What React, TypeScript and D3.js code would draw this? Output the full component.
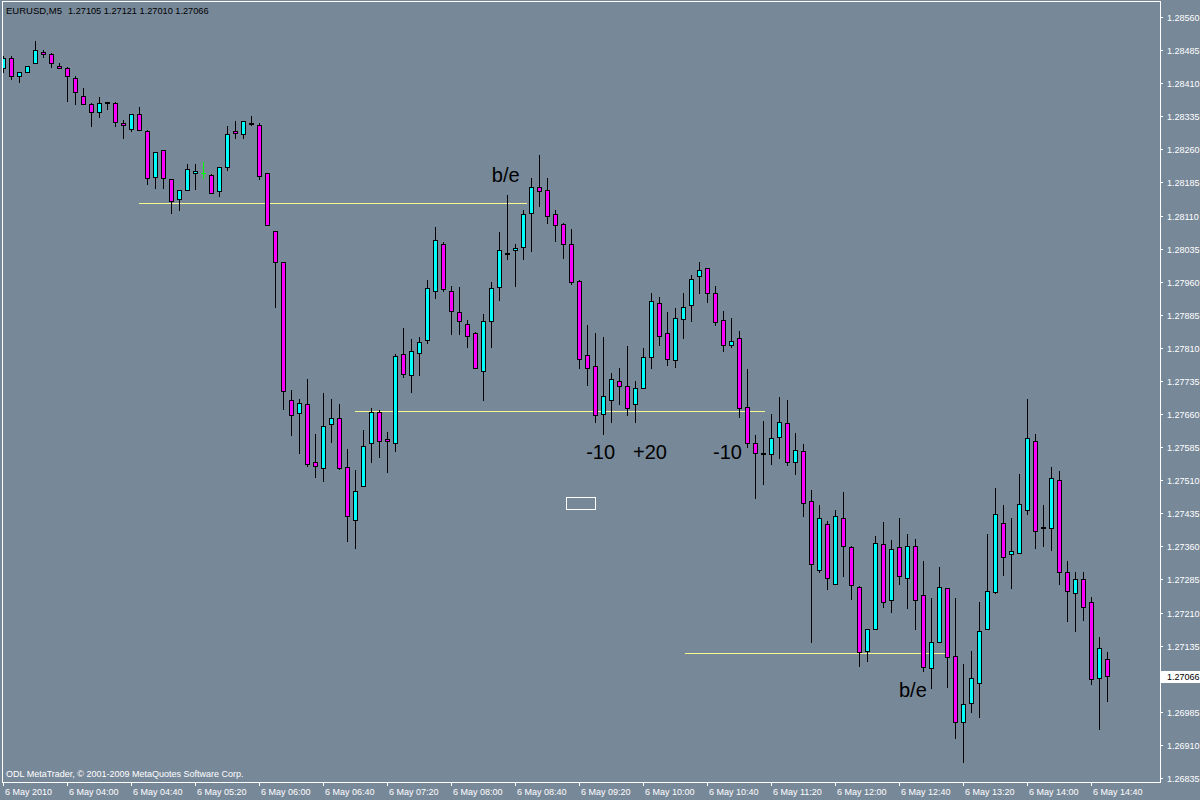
import React from 'react'
import { scaleLinear } from 'd3'

// EURUSD M5, 6 May 2010, bar 0 = 03:20
const opens = [
  1.28444, 1.28466, 1.28426, 1.28435, 1.28455, 1.28480, 1.28475, 1.28450, 1.28444, 1.28421,
  1.28382, 1.28362, 1.28344, 1.28366, 1.28364, 1.28319, 1.28305, 1.28339, 1.28301, 1.28197,
  1.28258, 1.28192, 1.28147, 1.28167, 1.28206, 1.28206, 1.28201, 1.28165, 1.28219, 1.28301,
  1.28294, 1.28320, 1.28315, 1.28206, 1.28074, 1.28004, 1.27691, 1.27662, 1.27682, 1.27551,
  1.27537, 1.27637, 1.27650, 1.27539, 1.27419, 1.27496, 1.27594, 1.27664, 1.27603, 1.27594,
  1.27795, 1.27748, 1.27798, 1.27827, 1.27940, 1.28045, 1.27940, 1.27891, 1.27863, 1.27843,
  1.27757, 1.27872, 1.27947, 1.28025, 1.28031, 1.28038, 1.28115, 1.28174, 1.28167, 1.28113,
  1.28090, 1.28045, 1.27961, 1.27793, 1.27768, 1.27659, 1.27691, 1.27734, 1.27723, 1.27682,
  1.27718, 1.27789, 1.27911, 1.27843, 1.27782, 1.27875, 1.27907, 1.27972, 1.27990, 1.27934,
  1.27873, 1.27816, 1.27832, 1.27675, 1.27594, 1.27572, 1.27569, 1.27607, 1.27639, 1.27551,
  1.27576, 1.27462, 1.27306, 1.27410, 1.27274, 1.27424, 1.27358, 1.27267, 1.27124, 1.27172,
  1.27365, 1.27238, 1.27358, 1.27288, 1.27360, 1.27249, 1.27084, 1.27143, 1.27265, 1.27111,
  1.26961, 1.27004, 1.27050, 1.27172, 1.27256, 1.27412, 1.27342, 1.27344, 1.27442, 1.27600,
  1.27402, 1.27401, 1.27510, 1.27301, 1.27254, 1.27285, 1.27233, 1.27061, 1.27105
]
const highs = [
  1.28472, 1.28472, 1.28435, 1.28450, 1.28506, 1.28485, 1.28478, 1.28456, 1.28446, 1.28426,
  1.28398, 1.28364, 1.28378, 1.28368, 1.28367, 1.28327, 1.28339, 1.28355, 1.28303, 1.28253,
  1.28258, 1.28192, 1.28167, 1.28226, 1.28226, 1.28231, 1.28203, 1.28219, 1.28312, 1.28324,
  1.28324, 1.28336, 1.28319, 1.28207, 1.28074, 1.28004, 1.27715, 1.27693, 1.27739, 1.27615,
  1.27708, 1.27694, 1.27683, 1.27581, 1.27533, 1.27624, 1.27674, 1.27669, 1.27619, 1.27795,
  1.27855, 1.27830, 1.27835, 1.27964, 1.28084, 1.28049, 1.27950, 1.27948, 1.27873, 1.27845,
  1.27887, 1.27959, 1.28073, 1.28157, 1.28045, 1.28122, 1.28194, 1.28247, 1.28194, 1.28122,
  1.28092, 1.28079, 1.27963, 1.27862, 1.27844, 1.27835, 1.27753, 1.27764, 1.27814, 1.27734,
  1.27810, 1.27934, 1.27925, 1.27891, 1.27900, 1.27934, 1.27975, 1.28004, 1.27992, 1.27950,
  1.27894, 1.27878, 1.27848, 1.27761, 1.27612, 1.27644, 1.27659, 1.27698, 1.27691, 1.27616,
  1.27591, 1.27487, 1.27453, 1.27417, 1.27442, 1.27483, 1.27362, 1.27270, 1.27172, 1.27384,
  1.27415, 1.27374, 1.27424, 1.27387, 1.27376, 1.27328, 1.27242, 1.27313, 1.27265, 1.27242,
  1.27093, 1.27123, 1.27234, 1.27388, 1.27492, 1.27453, 1.27424, 1.27524, 1.27694, 1.27614,
  1.27453, 1.27539, 1.27532, 1.27328, 1.27301, 1.27301, 1.27245, 1.27154, 1.27121
]
const lows = [
  1.28436, 1.28420, 1.28413, 1.28435, 1.28455, 1.28469, 1.28447, 1.28444, 1.28370, 1.28363,
  1.28363, 1.28314, 1.28334, 1.28352, 1.28314, 1.28285, 1.28302, 1.28303, 1.28182, 1.28173,
  1.28173, 1.28116, 1.28123, 1.28167, 1.28169, 1.28194, 1.28160, 1.28154, 1.28213, 1.28285,
  1.28285, 1.28315, 1.28192, 1.28088, 1.27903, 1.27672, 1.27613, 1.27572, 1.27543, 1.27518,
  1.27509, 1.27597, 1.27535, 1.27373, 1.27357, 1.27496, 1.27552, 1.27563, 1.27528, 1.27577,
  1.27745, 1.27711, 1.27749, 1.27822, 1.27924, 1.27940, 1.27842, 1.27842, 1.27813, 1.27764,
  1.27692, 1.27813, 1.27919, 1.28012, 1.27951, 1.28012, 1.28030, 1.28132, 1.28092, 1.28052,
  1.28013, 1.27954, 1.27764, 1.27725, 1.27641, 1.27614, 1.27643, 1.27682, 1.27657, 1.27643,
  1.27718, 1.27764, 1.27817, 1.27772, 1.27767, 1.27833, 1.27870, 1.27934, 1.27913, 1.27861,
  1.27804, 1.27811, 1.27653, 1.27585, 1.27470, 1.27502, 1.27547, 1.27561, 1.27544, 1.27523,
  1.27430, 1.27144, 1.27301, 1.27263, 1.27274, 1.27292, 1.27241, 1.27090, 1.27101, 1.27172,
  1.27222, 1.27211, 1.27274, 1.27220, 1.27172, 1.27077, 1.27038, 1.27143, 1.27041, 1.26925,
  1.26872, 1.26985, 1.26973, 1.27172, 1.27254, 1.27296, 1.27266, 1.27344, 1.27433, 1.27357,
  1.27362, 1.27352, 1.27275, 1.27191, 1.27169, 1.27194, 1.27049, 1.26947, 1.27010
]
const closes = [
  1.28466, 1.28426, 1.28435, 1.28450, 1.28485, 1.28475, 1.28455, 1.28444, 1.28426, 1.28389,
  1.28363, 1.28344, 1.28364, 1.28367, 1.28321, 1.28315, 1.28339, 1.28303, 1.28194, 1.28253,
  1.28194, 1.28142, 1.28167, 1.28215, 1.28210, 1.28206, 1.28160, 1.28219, 1.28294, 1.28296,
  1.28324, 1.28319, 1.28199, 1.28088, 1.28004, 1.27712, 1.27657, 1.27684, 1.27546, 1.27542,
  1.27632, 1.27650, 1.27538, 1.27428, 1.27485, 1.27587, 1.27664, 1.27598, 1.27598, 1.27791,
  1.27751, 1.27802, 1.27823, 1.27945, 1.28054, 1.27943, 1.27893, 1.27872, 1.27838, 1.27764,
  1.27870, 1.27945, 1.28031, 1.28024, 1.28036, 1.28113, 1.28174, 1.28165, 1.28108, 1.28088,
  1.28045, 1.27959, 1.27784, 1.27764, 1.27657, 1.27702, 1.27739, 1.27723, 1.27673, 1.27718,
  1.27789, 1.27916, 1.27838, 1.27784, 1.27877, 1.27902, 1.27965, 1.27986, 1.27934, 1.27868,
  1.27816, 1.27825, 1.27673, 1.27594, 1.27571, 1.27571, 1.27605, 1.27641, 1.27551, 1.27578,
  1.27458, 1.27319, 1.27424, 1.27288, 1.27428, 1.27362, 1.27272, 1.27120, 1.27172, 1.27367,
  1.27233, 1.27353, 1.27292, 1.27362, 1.27238, 1.27086, 1.27143, 1.27267, 1.27109, 1.26961,
  1.27002, 1.27061, 1.27168, 1.27258, 1.27433, 1.27337, 1.27349, 1.27455, 1.27605, 1.27396,
  1.27403, 1.27514, 1.27301, 1.27258, 1.27285, 1.27222, 1.27059, 1.27129, 1.27066
]

const priceTicks = [
  1.28560, 1.28485, 1.28410, 1.28335, 1.28260, 1.28185, 1.28110, 1.28035, 1.27960, 1.27885,
  1.27810, 1.27735, 1.27660, 1.27585, 1.27510, 1.27435, 1.27360, 1.27285, 1.27210, 1.27135,
  1.26985, 1.26910, 1.26835
]
const timeLabels = [
  '6 May 2010', '6 May 04:00', '6 May 04:40', '6 May 05:20', '6 May 06:00', '6 May 06:40',
  '6 May 07:20', '6 May 08:00', '6 May 08:40', '6 May 09:20', '6 May 10:00', '6 May 10:40',
  '6 May 11:20', '6 May 12:00', '6 May 12:40', '6 May 13:20', '6 May 14:00', '6 May 14:40'
]
const barsPerLabel = 8

// horizontal levels drawn on the chart: price, from bar, to bar
const levelPrices = [1.28138, 1.27666, 1.27118]
const levelFrom = [17, 44, 85.3]
const levelTo = [65.5, 95.3, 117.7]

// text notes: label, bar, price (baseline)
const noteTexts = ['b/e', '-10', '+20', '-10', 'b/e']
const noteBars = [61.1, 72.9, 78.75, 88.75, 112]
const notePrices = [1.28186, 1.27558, 1.27558, 1.27558, 1.27019]

// rectangle object
const boxBars = [70.4, 74]
const boxPrices = [1.27472, 1.27445]

const lastPrice = 1.27066
const symbolText = 'EURUSD,M5'
const ohlcText = '1.27105 1.27121 1.27010 1.27066'
const creditText = 'ODL MetaTrader, © 2001-2009 MetaQuotes Software Corp.'

const BG = '#778899'
const BULL = '#00ffff'
const BEAR = '#ff00ff'
const DOJI = '#00ff00'
const LEVEL = '#f8f890'
const FONT = "'Liberation Sans', Arial, sans-serif"

const left = 2
const top = 1
const right = 1160
const bottom = 782

export default function App() {
  const x = scaleLinear().domain([0, opens.length - 1]).range([3, 3 + 8 * (opens.length - 1)])
  const y = scaleLinear().domain([1.26835, 1.28560]).range([778, 17])
  const ry = (p: number) => Math.round(y(p))

  return (
    <svg
      width={1200}
      height={800}
      style={{ position: 'absolute', left: 0, top: 0, display: 'block' }}
    >
      <defs>
        <clipPath id='plot'>
          <rect x={left + 1} y={top + 1} width={right - left - 1} height={bottom - top - 1} />
        </clipPath>
      </defs>
      <rect x={0} y={0} width={1200} height={800} fill={BG} />

      <g clipPath='url(#plot)'>
        {levelPrices.map((p, i) => (
          <line
            key={'lv' + i}
            x1={Math.round(x(levelFrom[i]))}
            x2={Math.round(x(levelTo[i]))}
            y1={ry(p) + 0.5}
            y2={ry(p) + 0.5}
            stroke={LEVEL}
            strokeWidth={1}
          />
        ))}

        {opens.map((o, i) => {
          const c = closes[i]
          const cx = Math.round(x(i))
          const hi = ry(highs[i])
          const lo = ry(lows[i])
          if (o === c) {
            const yy = ry(o)
            return (
              <g key={i}>
                <line x1={cx + 0.5} x2={cx + 0.5} y1={hi} y2={lo + 1} stroke={DOJI} />
                <line x1={cx - 2} x2={cx + 3} y1={yy + 0.5} y2={yy + 0.5} stroke={DOJI} />
              </g>
            )
          }
          const t = ry(Math.max(o, c))
          const b = ry(Math.min(o, c))
          return (
            <g key={i}>
              <line x1={cx + 0.5} x2={cx + 0.5} y1={hi} y2={lo + 1} stroke='#000' />
              <rect
                x={cx - 1.5}
                y={t + 0.5}
                width={4}
                height={Math.max(b - t, 1)}
                fill={c > o ? BULL : BEAR}
                stroke='#000'
                strokeWidth={1}
              />
            </g>
          )
        })}

        <rect
          x={Math.round(x(boxBars[0])) + 0.5}
          y={ry(boxPrices[0]) + 0.5}
          width={Math.round(x(boxBars[1])) - Math.round(x(boxBars[0]))}
          height={ry(boxPrices[1]) - ry(boxPrices[0])}
          fill='none'
          stroke='#fff'
        />

        {noteTexts.map((t, i) => (
          <text
            key={'n' + i}
            x={x(noteBars[i])}
            y={y(notePrices[i])}
            fontFamily={FONT}
            fontSize={20}
            fill='#000'
          >
            {t}
          </text>
        ))}
      </g>

      {/* frame */}
      <rect
        x={left + 0.5}
        y={top + 0.5}
        width={right - left}
        height={bottom - top}
        fill='none'
        stroke='#fff'
      />

      {/* price axis */}
      {priceTicks.map((p) => (
        <g key={'p' + p}>
          <line x1={right} x2={right + 3} y1={ry(p) + 0.5} y2={ry(p) + 0.5} stroke='#fff' />
          <text
            x={right + 7}
            y={ry(p) + 3.5}
            fontFamily={FONT}
            fontSize={9}
            fill='#fff'
          >
            {p.toFixed(5)}
          </text>
        </g>
      ))}
      <rect x={right} y={ry(lastPrice) - 5} width={40} height={12} fill='#fff' />
      <text
        x={right + 7}
        y={ry(lastPrice) + 4}
        fontFamily={FONT}
        fontSize={9}
        fill='#000'
      >
        {lastPrice.toFixed(5)}
      </text>

      {/* time axis */}
      {timeLabels.map((t, i) => {
        const tx = Math.round(x(i * barsPerLabel))
        return (
          <g key={'t' + i}>
            <line x1={tx + 0.5} x2={tx + 0.5} y1={bottom} y2={bottom + 4} stroke='#fff' />
            <text x={tx + 2} y={bottom + 13} fontFamily={FONT} fontSize={9} fill='#fff'>
              {t}
            </text>
          </g>
        )
      })}

      <text x={6} y={14} fontFamily={FONT} fontSize={9.5} fill='#000'>
        {symbolText}
      </text>
      <text x={68} y={14} fontFamily={FONT} fontSize={9.2} fill='#000'>
        {ohlcText}
      </text>
      <text x={6} y={777} fontFamily={FONT} fontSize={9} fill='#fff'>
        {creditText}
      </text>
    </svg>
  )
}
